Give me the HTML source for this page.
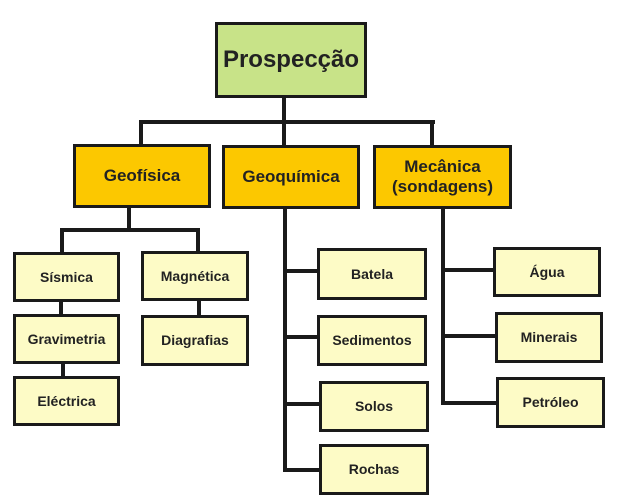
<!DOCTYPE html><html><head><style>
body{margin:0;width:625px;height:501px;background:#fff;position:relative;overflow:hidden;font-family:"Liberation Sans",Arial,sans-serif;font-weight:bold;color:#222}
.b{position:absolute;box-sizing:border-box;border:3.5px solid #1a1a1a;display:flex;align-items:center;justify-content:center;text-align:center;font-size:14px;background:#fdfbc6;line-height:1.2}
.o{background:#fcc800;font-size:17px}
.l{position:absolute;background:#1a1a1a}
</style></head><body>
<div class="l" style="left:282px;top:95px;width:3.5px;height:52px"></div>
<div class="l" style="left:139px;top:120px;width:296px;height:3.5px"></div>
<div class="l" style="left:139px;top:120px;width:3.5px;height:26px"></div>
<div class="l" style="left:430px;top:120px;width:3.5px;height:26px"></div>
<div class="l" style="left:127px;top:206px;width:3.5px;height:25px"></div>
<div class="l" style="left:60px;top:228px;width:139px;height:3.5px"></div>
<div class="l" style="left:60px;top:228px;width:3.5px;height:26px"></div>
<div class="l" style="left:196px;top:228px;width:3.5px;height:26px"></div>
<div class="l" style="left:59px;top:300px;width:3.5px;height:16px"></div>
<div class="l" style="left:61px;top:362px;width:3.5px;height:16px"></div>
<div class="l" style="left:197px;top:299px;width:3.5px;height:18px"></div>
<div class="l" style="left:283px;top:206px;width:3.5px;height:266px"></div>
<div class="l" style="left:283px;top:269px;width:36px;height:3.5px"></div>
<div class="l" style="left:283px;top:335px;width:36px;height:3.5px"></div>
<div class="l" style="left:283px;top:402px;width:36px;height:3.5px"></div>
<div class="l" style="left:283px;top:468px;width:36px;height:3.5px"></div>
<div class="l" style="left:441px;top:206px;width:3.5px;height:199px"></div>
<div class="l" style="left:441px;top:268px;width:55px;height:3.5px"></div>
<div class="l" style="left:441px;top:334px;width:55px;height:3.5px"></div>
<div class="l" style="left:441px;top:401px;width:55px;height:3.5px"></div>
<div class="b" style="left:215px;top:22px;width:152px;height:76px;background:#c8e388;font-size:24px">Prospecção</div>
<div class="b o" style="left:73px;top:144px;width:138px;height:64px">Geofísica</div>
<div class="b o" style="left:222px;top:145px;width:138px;height:64px">Geoquímica</div>
<div class="b o" style="left:373px;top:145px;width:139px;height:64px">Mecânica<br>(sondagens)</div>
<div class="b" style="left:13px;top:252px;width:107px;height:50px">Sísmica</div>
<div class="b" style="left:13px;top:314px;width:107px;height:50px">Gravimetria</div>
<div class="b" style="left:13px;top:376px;width:107px;height:50px">Eléctrica</div>
<div class="b" style="left:141px;top:251px;width:108px;height:50px">Magnética</div>
<div class="b" style="left:141px;top:315px;width:108px;height:51px">Diagrafias</div>
<div class="b" style="left:317px;top:248px;width:110px;height:52px">Batela</div>
<div class="b" style="left:317px;top:315px;width:110px;height:51px">Sedimentos</div>
<div class="b" style="left:319px;top:381px;width:110px;height:51px">Solos</div>
<div class="b" style="left:319px;top:444px;width:110px;height:51px">Rochas</div>
<div class="b" style="left:493px;top:247px;width:108px;height:50px">Água</div>
<div class="b" style="left:495px;top:312px;width:108px;height:51px">Minerais</div>
<div class="b" style="left:496px;top:377px;width:109px;height:51px">Petróleo</div>
</body></html>
